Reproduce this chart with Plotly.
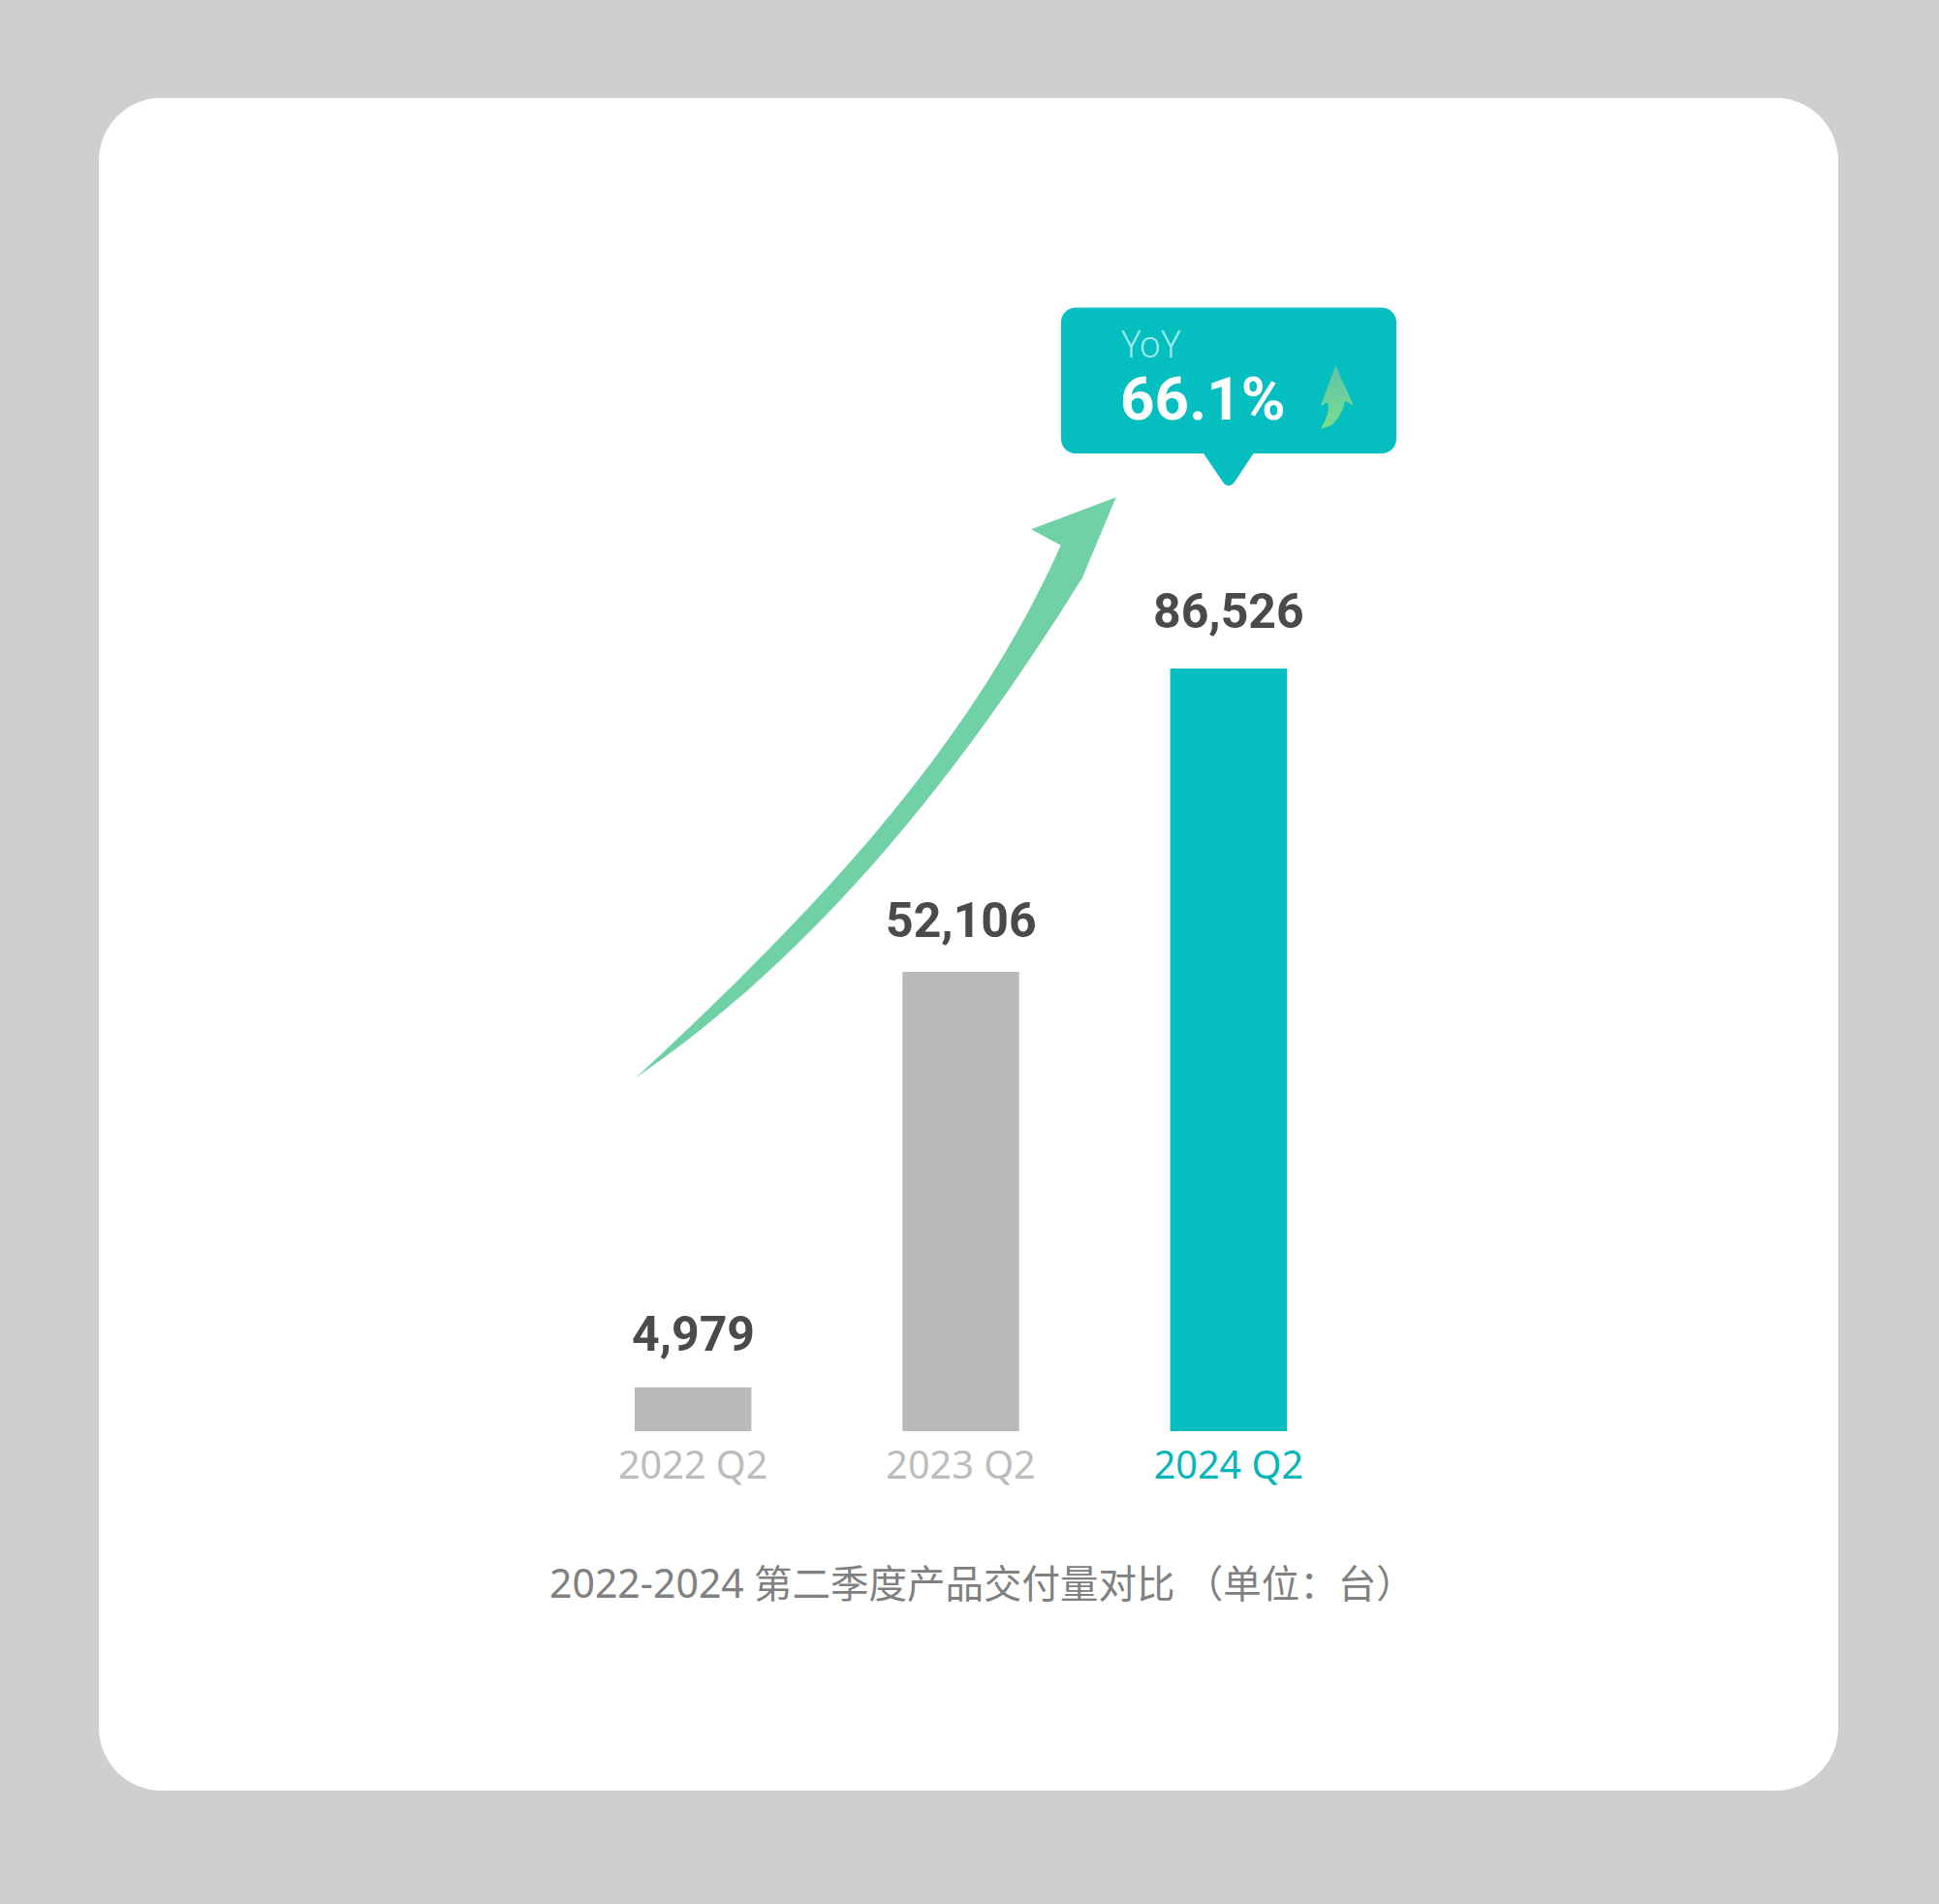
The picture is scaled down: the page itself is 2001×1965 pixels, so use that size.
import numpy as np
import plotly.graph_objects as go

W = 2001
H = 1965

quarters = ["2022 Q2", "2023 Q2", "2024 Q2"]
deliveries = [4979, 52106, 86526]
bar_colors = ["#BABABA", "#BABABA", "#05BEC0"]
tick_colors = ["#BCBCBC", "#BCBCBC", "#05B5B8"]
label_lift = [55, 53, 59]

caption_years = "2022-2024"
caption_rest = " 第二季度产品交付量对比 （单位：台）"
yoy_label = "YoY"
yoy_value = "66.1%"

# small gradient arrow inside the callout, page pixels
small_arrow_x = [1378.3, 1396.7, 1388, 1386, 1381, 1374, 1362.7, 1367, 1370, 1371, 1370, 1362.7, 1378.3]
small_arrow_y = [377.3, 418.3, 414, 422, 431, 439, 442.7, 435, 427, 421, 415, 419.3, 377.3]

# outline of the big trend arrow, page pixels
trend_upper = [(656, 1112.5), (706.7, 1060), (756.7, 1016.7), (806.7, 966.7), (853.3, 916.7), (900, 866.7),
               (953, 797), (1003.3, 725), (1033.3, 678.3), (1056.7, 640), (1076.7, 603.3), (1094.7, 562.7)]
trend_lower = [(1116.7, 596.7), (1090, 640), (1060, 686.7), (1026.7, 730), (993.3, 775), (953.3, 830), (916.7, 876.7),
               (873.3, 923.3), (823.3, 971.7), (773.3, 1020), (723.3, 1063.3), (656, 1112.5)]


def rounded_rect(x0, y0, x1, y1, r):
    c = r * 0.4477
    return (f"M{x0 + r},{y0} L{x1 - r},{y0} C{x1 - c},{y0} {x1},{y0 + c} {x1},{y0 + r} "
            f"L{x1},{y1 - r} C{x1},{y1 - c} {x1 - c},{y1} {x1 - r},{y1} "
            f"L{x0 + r},{y1} C{x0 + c},{y1} {x0},{y1 - c} {x0},{y1 - r} "
            f"L{x0},{y0 + r} C{x0},{y0 + c} {x0 + c},{y0} {x0 + r},{y0} Z")


def fit_cubic(points):
    # one bezier through the measured outline, ends fixed
    p = np.array(points, dtype=float)
    d = np.r_[0, np.cumsum(np.hypot(*np.diff(p, axis=0).T))]
    t = d / d[-1]
    b0, b1, b2, b3 = (1 - t) ** 3, 3 * t * (1 - t) ** 2, 3 * t ** 2 * (1 - t), t ** 3
    rhs = p - np.outer(b0, p[0]) - np.outer(b3, p[-1])
    ctrl = np.linalg.lstsq(np.c_[b1, b2], rhs, rcond=None)[0]
    return f" C{ctrl[0][0]},{ctrl[0][1]} {ctrl[1][0]},{ctrl[1][1]} {p[-1][0]},{p[-1][1]}"


callout_r = 15
c = callout_r * 0.4477
callout_path = (
    f"M1110,317.5 L1426,317.5 C{1441 - c},317.5 1441,{317.5 + c} 1441,332.5 "
    f"L1441,453 C1441,{468 - c} {1441 - c},468 1426,468 "
    "L1293.5,468 L1274,497.5 Q1268,505 1262,497.5 L1242,468 "
    f"L1110,468 C{1095 + c},468 1095,{468 - c} 1095,453 "
    f"L1095,332.5 C1095,{317.5 + c} {1095 + c},317.5 1110,317.5 Z"
)
trend_path = (
    f"M{trend_upper[0][0]},{trend_upper[0][1]}" + fit_cubic(trend_upper)
    + " L1064,546.3 L1151.7,513.3"
    + f" L{trend_lower[0][0]},{trend_lower[0][1]}" + fit_cubic(trend_lower) + " Z"
)

fig = go.Figure()

# first subplot is the page itself in pixels, it sits under the bars
fig.add_trace(go.Scatter(
    x=small_arrow_x, y=small_arrow_y,
    mode="lines", line=dict(width=0),
    fill="toself",
    fillgradient=dict(type="vertical", colorscale=[[0, "#78DE8C"], [1, "#62C2AA"]]),
    hoverinfo="skip", showlegend=False,
    xaxis="x", yaxis="y",
))

fig.add_trace(go.Bar(
    x=quarters, y=deliveries,
    marker=dict(color=bar_colors, line=dict(width=0)),
    width=0.436,
    showlegend=False,
    xaxis="x2", yaxis="y2",
))

value_labels = [
    dict(text=f"{v:,}", x=q, y=v, xref="x2", yref="y2", yshift=lift,
         xanchor="center", yanchor="middle", showarrow=False,
         font=dict(family="Roboto", size=50, color="#4A4A4A", weight=700))
    for q, v, lift in zip(quarters, deliveries, label_lift)
]

fig.update_layout(
    width=W, height=H,
    margin=dict(l=0, r=0, t=0, b=0),
    paper_bgcolor="#D0CECF",
    plot_bgcolor="rgba(0,0,0,0)",
    xaxis=dict(domain=[0, 1], range=[0, W], visible=False, fixedrange=True),
    yaxis=dict(domain=[0, 1], range=[H, 0], visible=False, fixedrange=True),
    xaxis2=dict(
        domain=[577 / W, 1406 / W],
        anchor="y2",
        type="category",
        tickmode="array",
        tickvals=quarters,
        ticktext=[f'<span style="color:{c}">{q}</span>' for q, c in zip(quarters, tick_colors)],
        tickfont=dict(family="Noto Sans", size=39.6),
        ticklabelstandoff=8,
        showline=False, showgrid=False, zeroline=False, ticks="",
        fixedrange=True,
    ),
    yaxis2=dict(
        domain=[(H - 1477) / H, (H - 567.5) / H],
        anchor="x2",
        range=[0, 100000],
        visible=False,
        fixedrange=True,
    ),
    shapes=[
        dict(type="path", path=rounded_rect(102, 101, 1897, 1848, 65), xref="x", yref="y",
             fillcolor="#FFFFFF", line=dict(width=0), layer="below"),
        dict(type="path", path=callout_path, xref="x", yref="y",
             fillcolor="#05BEC0", line=dict(width=0), layer="below"),
        dict(type="path", path=trend_path, xref="x", yref="y",
             fillcolor="#70D0A6", line=dict(width=0), layer="below"),
    ],
    annotations=value_labels + [
        dict(text=yoy_label, x=1155, y=354, xref="x", yref="y", xanchor="left", yanchor="middle",
             showarrow=False, font=dict(family="Noto Sans", size=38, color="#9CEBE8", weight=300)),
        dict(text=yoy_value, x=1154, y=411, xref="x", yref="y", xanchor="left", yanchor="middle",
             showarrow=False, font=dict(family="Roboto", size=62, color="#FFFFFF", weight=700)),
        dict(text=f'<span style="font-size:41px">{caption_years}</span>{caption_rest}',
             x=1013.5, y=1633, xref="x", yref="y", xanchor="center", yanchor="middle",
             showarrow=False, font=dict(family="Noto Sans, Noto Sans CJK SC", size=39.5, color="#808080")),
    ],
)

fig.write_html("out.html", config=dict(displayModeBar=False),
               post_script="document.body.style.margin='0';")
